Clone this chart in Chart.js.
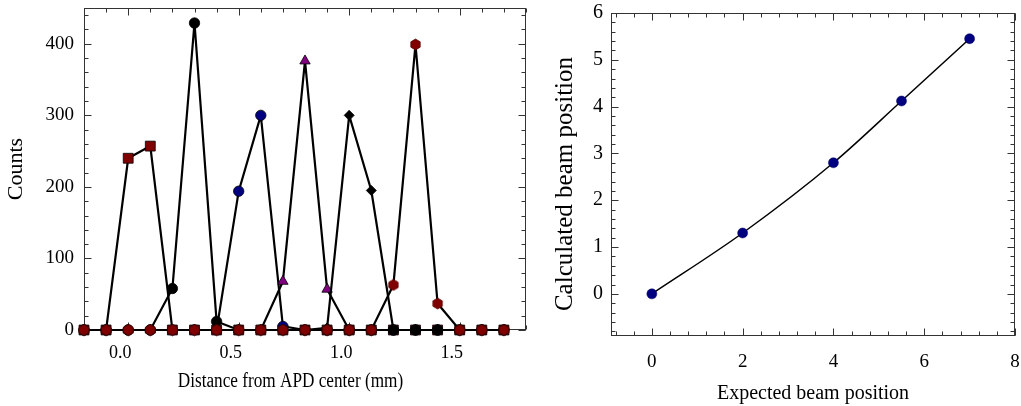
<!DOCTYPE html>
<html><head><meta charset="utf-8">
<script src="https://cdn.jsdelivr.net/npm/chart.js@4.4.1/dist/chart.umd.min.js"></script>
<style>
html,body{margin:0;padding:0;background:#fff;width:1021px;height:406px;overflow:hidden}
.box{position:absolute;top:0;height:406px}
#b1{left:0;width:535px}
#b2{left:535px;width:486px}
</style></head><body>
<div class="box" id="b1"><canvas id="c1"></canvas></div>
<div class="box" id="b2"><canvas id="c2"></canvas></div>
<script>
// ---------- data: left panel ----------
const positions = [-0.2,-0.1,0.0,0.1,0.2,0.3,0.4,0.5,0.6,0.7,0.8,0.9,1.0,1.1,1.2,1.3,1.4,1.5,1.6,1.7];
const hexCounts      = [0,0,0,0,0,0,0,0,0,0,0,0,0,0,63,399,37,0,0,0];
const blackCircleCounts = [0,0,0,0,58,429,12,0,0,0,0,0,0,0,0,0,0,0,0,0];
const diamondCounts  = [0,0,0,0,0,0,0,0,0,0,0,3,300,195,0,0,0,0,0,0];
const triangleCounts = [0,0,0,0,0,0,0,0,0,68,376,57,0,0,0,0,0,0,0,0];
const blueCircleCounts = [0,0,0,0,0,0,0,194,300,5,0,0,0,0,0,0,0,0,0,0];
const squareCounts   = [0,0,240,257,0,0,0,0,0,0,0,0,0,0,0,0,0,0,0,0];
const leftXTicks = [0.0, 0.5, 1.0, 1.5];
const leftYTicks = [0, 100, 200, 300, 400];

// ---------- data: right panel ----------
const expectedPos   = [0, 2, 4, 5.5, 7];
const calculatedPos = [0, 1.3, 2.8, 4.12, 5.45];
const rightXTicks = [0, 2, 4, 6, 8];
const rightYTicks = [0, 1, 2, 3, 4, 5, 6];

const FAMILY = '"Liberation Serif", "Times New Roman", serif';
Chart.defaults.font.family = FAMILY;
Chart.defaults.color = '#000';

function hexImage(r, fill, stroke) {
  const s = Math.ceil(2 * r + 2);
  const c = document.createElement('canvas');
  c.width = s; c.height = s;
  const g = c.getContext('2d');
  g.beginPath();
  for (let i = 0; i < 6; i++) {
    const a = -Math.PI / 2 + i * Math.PI / 3;
    const px = s / 2 + r * Math.cos(a), py = s / 2 + r * Math.sin(a);
    i ? g.lineTo(px, py) : g.moveTo(px, py);
  }
  g.closePath();
  g.fillStyle = fill; g.fill();
  g.lineWidth = 0.8; g.strokeStyle = stroke; g.stroke();
  return c;
}

const frameTicks = {
  id: 'frameTicks',
  beforeDatasetsDraw(chart, args, o) {
    const { ctx, chartArea: a, scales } = chart;
    const xs = scales.x, ys = scales.y;
    ctx.save();
    ctx.strokeStyle = o.color; ctx.lineWidth = 1;
    const L = Math.round(a.left) + 0.5, R = Math.round(a.right) - 0.5;
    const T = Math.round(a.top) + 0.5, B = Math.round(a.bottom) - 0.5;
    ctx.strokeRect(L, T, R - L, B - T);
    ctx.beginPath();
    const vx = (v, len) => {
      const p = Math.round(xs.getPixelForValue(v)) + 0.5;
      ctx.moveTo(p, B); ctx.lineTo(p, B - len);
      ctx.moveTo(p, T); ctx.lineTo(p, T + len);
    };
    const vy = (v, len) => {
      const p = Math.round(ys.getPixelForValue(v)) + 0.5;
      ctx.moveTo(L, p); ctx.lineTo(L + len, p);
      ctx.moveTo(R, p); ctx.lineTo(R - len, p);
    };
    const minor = (scale, step, fn) => {
      const k0 = Math.ceil(scale.min / step - 1e-6), k1 = Math.floor(scale.max / step + 1e-6);
      for (let k = k0; k <= k1; k++) fn(k * step, o.minorLen);
    };
    minor(xs, o.xMinor, vx);
    minor(ys, o.yMinor, vy);
    xs.ticks.forEach(t => vx(t.value, o.majorLen));
    ys.ticks.forEach(t => vy(t.value, o.majorLen));
    ctx.stroke();
    ctx.restore();
  }
};

const extraText = {
  id: 'extraText',
  afterDraw(chart, args, o) {
    const ctx = chart.ctx;
    (o.items || []).forEach(it => {
      ctx.save();
      ctx.font = it.size + 'px ' + FAMILY;
      ctx.fillStyle = '#000';
      ctx.textAlign = 'center';
      ctx.textBaseline = 'alphabetic';
      ctx.translate(it.x, it.y);
      if (it.rotate) ctx.rotate(it.rotate);
      ctx.scale(it.sx || 1, 1);
      ctx.fillText(it.text, 0, 0);
      ctx.restore();
    });
  }
};

const toXY = (xs, ys) => xs.map((x, i) => ({ x, y: ys[i] }));

function series(label, values, style, fill, radius) {
  return {
    label, data: toXY(positions, values),
    borderColor: '#000', borderWidth: 2.2,
    pointStyle: style, pointRadius: radius, pointHoverRadius: radius,
    pointBackgroundColor: fill, pointBorderColor: '#000', pointBorderWidth: 0.8,
    tension: 0, clip: false
  };
}

const fixX = h => s => { s.height = h; s.paddingLeft = 0; s.paddingRight = 0; };
const fixY = w => s => { s.width = w; s.paddingTop = 0; s.paddingBottom = 0; };

const hexImg = hexImage(5.4, '#800000', '#5a0000');

new Chart(document.getElementById('c1'), {
  type: 'line',
  data: {
    datasets: [
      series('hexagons', hexCounts, hexImg, '#800000', 5.5),
      series('black circles', blackCircleCounts, 'circle', '#000', 5.2),
      series('diamonds', diamondCounts, 'rectRot', '#000', 5),
      series('triangles', triangleCounts, 'triangle', '#800080', 6),
      series('blue circles', blueCircleCounts, 'circle', '#000080', 5.2),
      series('squares', squareCounts, 'rect', '#800000', 7)
    ]
  },
  options: {
    responsive: true, maintainAspectRatio: false, animation: false,
    layout: { padding: { top: 8, right: 9, left: 0, bottom: 0 } },
    plugins: {
      legend: { display: false }, tooltip: { enabled: false },
      frameTicks: { color: '#333', majorLen: 7, minorLen: 4, xMinor: 0.1, yMinor: 20 },
      extraText: { items: [{ text: 'Distance from APD center (mm)', x: 290.5, y: 386.5, size: 20, sx: 0.86 }] }
    },
    scales: {
      x: {
        type: 'linear', min: -0.2, max: 1.8,
        afterBuildTicks: s => { s.ticks = leftXTicks.map(v => ({ value: v })); },
        afterFit: fixX(76),
        ticks: { callback: v => Number(v).toFixed(1), font: { size: 18 }, padding: 12, labelOffset: -8, maxRotation: 0, autoSkip: false },
        grid: { display: false, drawTicks: false }, border: { display: false }
      },
      y: {
        type: 'linear', min: 0, max: 450,
        afterBuildTicks: s => { s.ticks = leftYTicks.map(v => ({ value: v })); },
        afterFit: fixY(84),
        ticks: { font: { size: 19 }, padding: 10 },
        title: { display: true, text: 'Counts', font: { size: 22 }, padding: { top: 3, bottom: 0 } },
        grid: { display: false, drawTicks: false }, border: { display: false }
      }
    }
  },
  plugins: [frameTicks, extraText]
});

new Chart(document.getElementById('c2'), {
  type: 'line',
  data: {
    datasets: [{
      label: 'Calculated beam position',
      data: toXY(expectedPos, calculatedPos),
      borderColor: '#000', borderWidth: 1.5,
      cubicInterpolationMode: 'monotone',
      pointStyle: 'circle', pointRadius: 5, pointHoverRadius: 5,
      pointBackgroundColor: '#000080', pointBorderColor: '#000060', pointBorderWidth: 0.5,
      clip: false
    }]
  },
  options: {
    responsive: true, maintainAspectRatio: false, animation: false,
    layout: { padding: { top: 13, right: 6, left: 0, bottom: 0 } },
    plugins: {
      legend: { display: false }, tooltip: { enabled: false },
      frameTicks: { color: '#333', majorLen: 7, minorLen: 4, xMinor: 0.4, yMinor: 0.2 },
      extraText: { items: [{ text: 'Calculated beam position', x: 37, y: 184, size: 25, rotate: -Math.PI / 2 }] }
    },
    scales: {
      x: {
        type: 'linear', min: -0.9, max: 8,
        afterBuildTicks: s => { s.ticks = rightXTicks.map(v => ({ value: v })); },
        afterFit: fixX(70),
        ticks: { font: { size: 19 }, padding: 15, maxRotation: 0, autoSkip: false },
        title: { display: true, text: 'Expected beam position', font: { size: 20 }, padding: { top: 4, bottom: 0 } },
        grid: { display: false, drawTicks: false }, border: { display: false }
      },
      y: {
        type: 'linear', min: -0.9, max: 6,
        afterBuildTicks: s => { s.ticks = rightYTicks.map(v => ({ value: v })); },
        afterFit: fixY(76),
        ticks: { font: { size: 20 }, padding: 8 },
        grid: { display: false, drawTicks: false }, border: { display: false }
      }
    }
  },
  plugins: [frameTicks, extraText]
});
</script>
</body></html>
